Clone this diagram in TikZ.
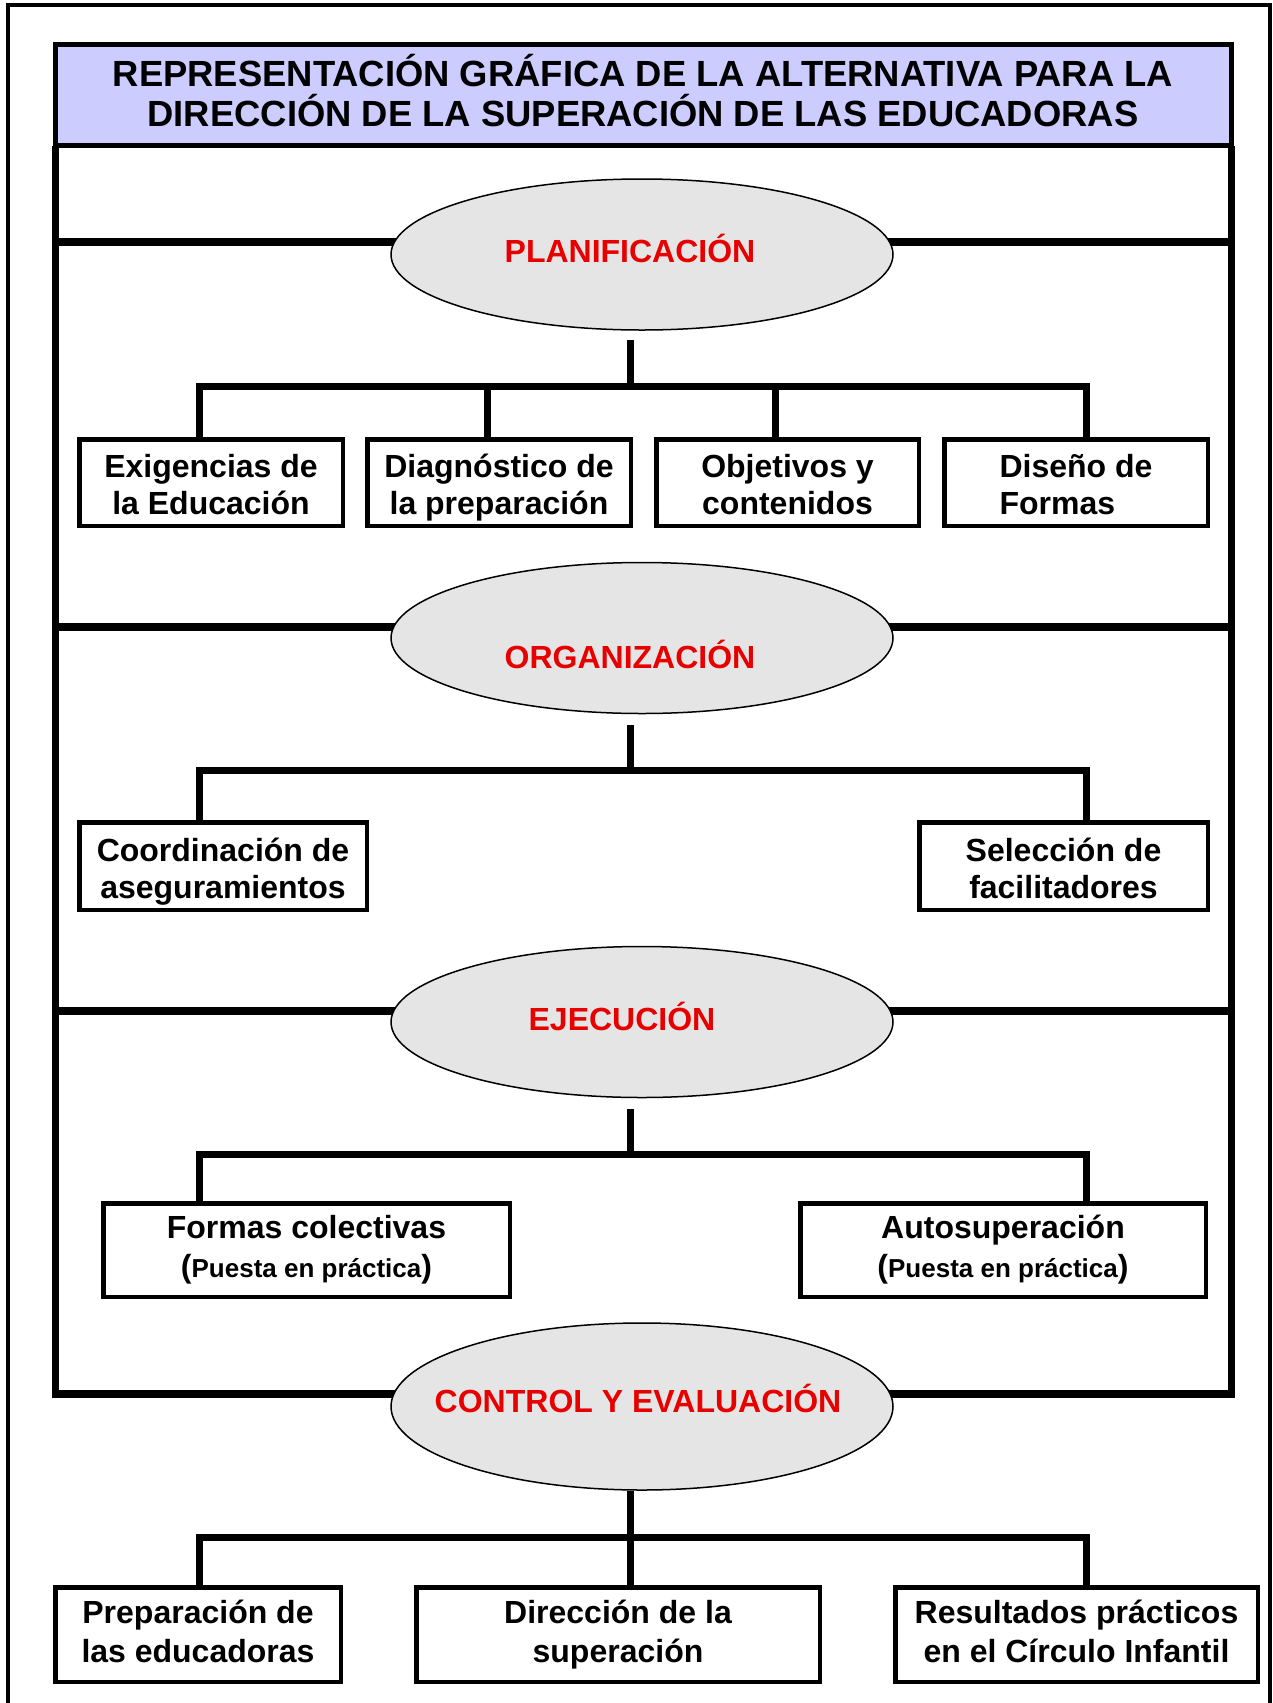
\documentclass[tikz,border=0pt]{standalone}
\usepackage{fontspec}
\setmainfont{Liberation Sans}
\usepackage{tikz}
\usetikzlibrary{shapes.geometric}
\definecolor{titlefill}{RGB}{204,204,255}
\definecolor{phasefill}{RGB}{229,229,229}
\definecolor{phasered}{RGB}{230,0,0}
\newcommand{\boxstrut}{\rule{0pt}{17pt}}

\begin{document}
\begin{tikzpicture}[x=0.5pt, y=-0.5pt,
    outer/.style={line width=2pt},
    wall/.style={line width=3.5pt},
    level/.style={line width=4.15pt},
    bar/.style={line width=3.5pt, line cap=rect},
    stem/.style={line width=3.5pt},
    titlebox/.style={draw, line width=2.5pt, fill=titlefill, inner sep=0pt, align=center,
        minimum width=588pt, minimum height=50.65pt, font=\fontsize{18.2}{20}\selectfont\bfseries,
        execute at end node=\rule[-4.7pt]{0pt}{4.7pt}},
    phase/.style={ellipse, draw, line width=0.75pt, fill=phasefill, inner sep=0pt,
        minimum width=251pt, minimum height=75.5pt},
    phasetext/.style={anchor=base, text=phasered, font=\fontsize{16}{18.5}\selectfont\bfseries},
    box/.style={draw, line width=2.25pt, fill=white, inner sep=0pt, align=center,
        font=\fontsize{16}{18.5}\selectfont\bfseries, execute at end node=\rule[-3.5pt]{0pt}{3.5pt}},
    tallbox/.style={box, font=\fontsize{16}{19.5}\selectfont\bfseries}]
    \useasboundingbox (0,0) rectangle (1273,1703);
    \draw [outer] (8,1710) -- (8,5.3) -- (1270,5.3) -- (1270,1710);
    % frame of the four phases
    \draw [level] (51.5,242) -- (1234.5,242);
    \draw [level] (51.5,627) -- (1234.5,627);
    \draw [level] (51.5,1011) -- (1234.5,1011);
    \draw [level] (51.5,1394) -- (1234.5,1394);
    \draw [wall] (55,145.8) -- (55,1398);
    \draw [wall] (1231,145.8) -- (1231,1398);
    \node [titlebox] (title) at (643,95.2) {REPRESENTACIÓN GRÁFICA DE LA ALTERNATIVA PARA LA\\DIRECCIÓN DE LA SUPERACIÓN DE LAS EDUCADORAS};

    \node [phase] (plan) at (642,254.5) {};
    \node [phase] (org) at (642,638) {};
    \node [phase] (ejec) at (642,1022) {};
    \node [phase, minimum height=83.5pt] (ctrl) at (642,1406.5) {};
    \node [phasetext] (plantext) at (630,262) {PLANIFICACIÓN};
    \node [phasetext] (orgtext) at (630,668) {ORGANIZACIÓN};
    \node [phasetext] (ejectext) at (622,1030) {EJECUCIÓN};
    \node [phasetext] (ctrltext) at (638,1412) {CONTROL Y EVALUACIÓN};

    % planificacion
    \node [box, minimum width=131.75pt, minimum height=43.25pt] (exig) at (211,482.5) {\boxstrut Exigencias de\\la Educación};
    \node [box, minimum width=131.75pt, minimum height=43.25pt] (diag) at (499,482.5) {\boxstrut Diagnóstico de\\la preparación};
    \node [box, minimum width=131.25pt, minimum height=43.25pt] (obj) at (787.5,482.5) {\boxstrut Objetivos y\\contenidos};
    \node [box, minimum width=131.75pt, minimum height=43.25pt, align=left] (dis) at (1076,482.5) {\boxstrut Diseño de\\Formas};
    \coordinate (s1) at (630,340);
    \coordinate (b1) at (630,386);
    \coordinate (b1a) at (199,386);
    \coordinate (b1b) at (487,386);
    \coordinate (b1c) at (775,386);
    \coordinate (b1d) at (1086,386);
    \draw [stem] (s1) -- (b1);
    \draw [bar] (b1a) -- (b1d);
    \draw [stem] (b1a) -- (b1a |- exig.north);
    \draw [stem] (b1b) -- (b1b |- diag.north);
    \draw [stem] (b1c) -- (b1c |- obj.north);
    \draw [stem] (b1d) -- (b1d |- dis.north);

    % organizacion
    \node [box, minimum width=143.75pt, minimum height=43.75pt] (coord) at (223,866) {\boxstrut Coordinación de\\aseguramientos};
    \node [box, minimum width=144.25pt, minimum height=43.75pt] (selec) at (1063.5,866) {\boxstrut Selección de\\facilitadores};
    \coordinate (s2) at (630,725);
    \coordinate (b2) at (630,770);
    \coordinate (b2a) at (199,770);
    \coordinate (b2d) at (1086,770);
    \draw [stem] (s2) -- (b2);
    \draw [bar] (b2a) -- (b2d);
    \draw [stem] (b2a) -- (b2a |- coord.north);
    \draw [stem] (b2d) -- (b2d |- selec.north);

    % ejecucion
    \node [tallbox, minimum width=203.25pt, minimum height=46.75pt] (colec) at (306.5,1250) {Formas colectivas\\({\fontsize{13}{18.5}\selectfont Puesta en práctica})};
    \node [tallbox, minimum width=202.75pt, minimum height=46.75pt] (auto) at (1003,1250) {Autosuperación\\({\fontsize{13}{18.5}\selectfont Puesta en práctica})};
    \coordinate (s3) at (630,1108.5);
    \coordinate (b3) at (630,1154);
    \coordinate (b3a) at (199,1154);
    \coordinate (b3d) at (1086,1154);
    \draw [stem] (s3) -- (b3);
    \draw [bar] (b3a) -- (b3d);
    \draw [stem] (b3a) -- (b3a |- colec.north);
    \draw [stem] (b3d) -- (b3d |- auto.north);

    % control y evaluacion
    \node [tallbox, minimum width=142.75pt, minimum height=47.25pt] (prep) at (198,1634.5) {Preparación de\\las educadoras};
    \node [tallbox, minimum width=201.75pt, minimum height=47.25pt] (dir) at (618,1634.5) {Dirección de la\\superación};
    \node [tallbox, minimum width=181.25pt, minimum height=47.25pt] (res) at (1076.5,1634.5) {Resultados prácticos\\en el Círculo Infantil};
    \coordinate (s4) at (630,1491);
    \coordinate (b4a) at (199,1537);
    \coordinate (b4d) at (1086,1537);
    \draw [stem] (s4) -- (s4 |- dir.north);
    \draw [bar] (b4a) -- (b4d);
    \draw [stem] (b4a) -- (b4a |- prep.north);
    \draw [stem] (b4d) -- (b4d |- res.north);
\end{tikzpicture}
\end{document}
